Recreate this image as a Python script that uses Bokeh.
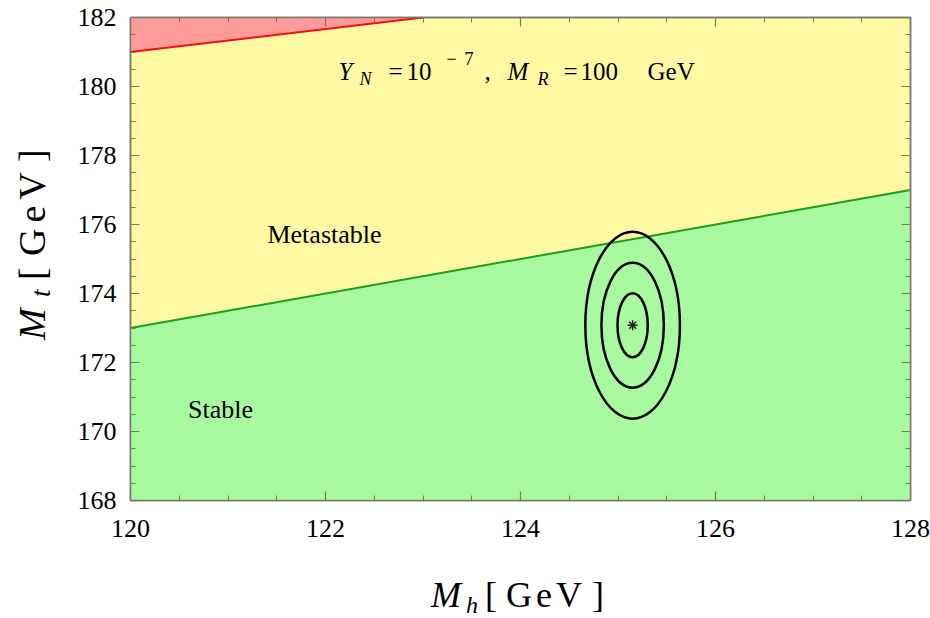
import math
from bokeh.plotting import figure
from bokeh.models import Range1d, SingleIntervalTicker, LinearAxis, Label, Div
from bokeh.layouts import row, column
from bokeh.embed import file_html
from bokeh.resources import INLINE

# ---- data ----
mh_edges = [120, 128]            # Higgs mass range of the boundary line
mt_stable_edge = [173, 177]      # stability boundary (top mass)
mh_unstable = [120, 123]         # instability boundary x
mt_unstable = [181, 182]         # instability boundary y
best_fit_mh = [125.15]
best_fit_mt = [173.08]
ell_w = [0.31, 0.64, 0.97]       # full widths of 1,2,3 sigma contours (GeV)
ell_h = [1.86, 3.62, 5.42]       # full heights of 1,2,3 sigma contours (GeV)
x_ticks = [120, 122, 124, 126, 128]
y_ticks = [168, 170, 172, 174, 176, 178, 180, 182]

YELLOW = "#FFF9A3"
GREEN = "#A9F9A0"
RED_FILL = "#FF9A9A"
RED_LINE = "#F01010"
GREEN_LINE = "#18A018"
FRAME = "#7a7a68"
FONT = "Liberation Serif"
AX_FONT = "Liberation Serif, Times New Roman, serif"

YDIV_W = 60
P_H = 560

p = figure(width=930 - YDIV_W, height=P_H, output_backend="svg", toolbar_location=None,
           x_range=Range1d(120, 128), y_range=Range1d(168, 182),
           min_border_left=130 - YDIV_W, min_border_right=20, min_border_top=17,
           min_border_bottom=P_H - 500,
           x_axis_location=None, y_axis_location=None)
p.background_fill_color = YELLOW
p.border_fill_color = "white"
p.grid.visible = False
p.outline_line_color = FRAME
p.outline_line_width = 1.5

# regions
p.varea(x=mh_edges, y1=[168, 168], y2=mt_stable_edge, fill_color=GREEN)
p.varea(x=mh_unstable, y1=mt_unstable, y2=[182, 182], fill_color=RED_FILL)
p.line(mh_edges, mt_stable_edge, line_color=GREEN_LINE, line_width=2)
p.line(mh_unstable, mt_unstable, line_color=RED_LINE, line_width=2)

# contours
n = len(ell_w)
p.ellipse(x=best_fit_mh * n, y=best_fit_mt * n, width=ell_w, height=ell_h,
          fill_color=None, line_color="black", line_width=2.5)
p.scatter(best_fit_mh, best_fit_mt, marker="asterisk", size=10, line_color="#222222", line_width=1.5)

# axes
def style(ax):
    ax.axis_line_color = FRAME
    ax.axis_line_width = 1.5
    ax.major_tick_line_color = FRAME
    ax.minor_tick_line_color = FRAME
    ax.major_tick_in = 9
    ax.major_tick_out = 0
    ax.minor_tick_in = 5
    ax.minor_tick_out = 0
    ax.major_tick_line_width = 1.2
    ax.minor_tick_line_width = 1
    ax.major_label_text_font = AX_FONT
    ax.major_label_text_font_size = "26px"
    ax.major_label_text_color = "black"

xb = LinearAxis(ticker=SingleIntervalTicker(interval=2, num_minor_ticks=4))
style(xb); xb.major_label_standoff = 19
yl = LinearAxis(ticker=SingleIntervalTicker(interval=2, num_minor_ticks=4))
style(yl); yl.major_label_standoff = 14
xa = LinearAxis(ticker=SingleIntervalTicker(interval=2, num_minor_ticks=4))
style(xa); xa.major_label_overrides = {t: "" for t in x_ticks}; xa.major_label_standoff = 0
yr = LinearAxis(ticker=SingleIntervalTicker(interval=2, num_minor_ticks=4))
style(yr); yr.major_label_overrides = {t: "" for t in y_ticks}; yr.major_label_standoff = 0
p.add_layout(xb, "below")
p.add_layout(yl, "left")
p.add_layout(xa, "above")
p.add_layout(yr, "right")

# pixel -> data helpers for text placement inside the frame
def sx(px):
    return 120 + (px - 130) / 97.5

def sy(py):
    return 182 - (py - 17) / 34.5

def put(text, px, py, size, italic=False, align="left"):
    p.add_layout(Label(x=sx(px), y=sy(py), text=text, text_font=FONT,
                       text_font_size=f"{size}px", text_color="black",
                       text_font_style="italic" if italic else "normal",
                       text_baseline="alphabetic", text_align=align))

# region labels
put("Metastable", 324, 234, 26, align="center")
put("Stable", 220, 409, 26, align="center")

# parameter annotation
put("Y", 338, 71, 25, True)
put("N", 359, 78, 18, True)
put("=", 388, 71, 25)
put("10", 406, 71, 25)
put("\u2212", 446, 58, 18)
put("7", 464, 58, 18)
put(",", 484, 71, 25)
put("M", 507, 71, 25, True)
put("R", 537, 78, 18, True)
put("=", 563, 71, 25)
put("100", 580, 71, 25)
put("GeV", 647, 71, 25)

# ---- axis titles as HTML text (outside the frame) ----
def span(text, left, baseline, size, italic=False, spacing=0):
    top = baseline - 0.8375 * size
    st = "italic" if italic else "normal"
    return (f'<span style="position:absolute;left:{left}px;top:{top:.1f}px;'
            f'font-size:{size}px;font-style:{st};line-height:1;white-space:nowrap;'
            f'letter-spacing:{spacing}px;">{text}</span>')

XDIV_TOP = P_H
xl = "".join([
    span("M", 431, 607 - XDIV_TOP, 36, True),
    span("h", 466, 613 - XDIV_TOP, 24, True),
    span("[", 485, 607 - XDIV_TOP, 36),
    span("GeV", 506, 607 - XDIV_TOP, 36, spacing=4),
    span("]", 592, 607 - XDIV_TOP, 36),
])
xdiv = Div(text=f'<div style="position:relative;width:930px;height:{618 - P_H}px;'
                f'font-family:\'{FONT}\';color:black;">{xl}</div>',
           width=930, height=618 - P_H, margin=0)

# y title: laid out horizontally (u along the text, v down), then rotated -90deg
yu0 = 340   # canvas y where the title starts (bottom)
yt = "".join([
    span("M", 0, 45, 38, True),
    span("t", 43, 51, 27, True),
    span("[", 60, 45, 38),
    span("GeV", 84, 45, 38, spacing=6),
    span("]", 178, 45, 38),
])
ydiv = Div(text=(f'<div style="position:relative;width:{YDIV_W}px;height:{P_H}px;">'
                 f'<div style="position:absolute;left:0px;top:{yu0}px;width:230px;height:{YDIV_W}px;'
                 f'transform-origin:0 0;transform:rotate(-90deg);font-family:\'{FONT}\';color:black;">'
                 f'{yt}</div></div>'),
           width=YDIV_W, height=P_H, margin=0)

layout = column(row(ydiv, p, spacing=0), xdiv, spacing=0)

open("out.html", "w").write(file_html(layout, INLINE))
